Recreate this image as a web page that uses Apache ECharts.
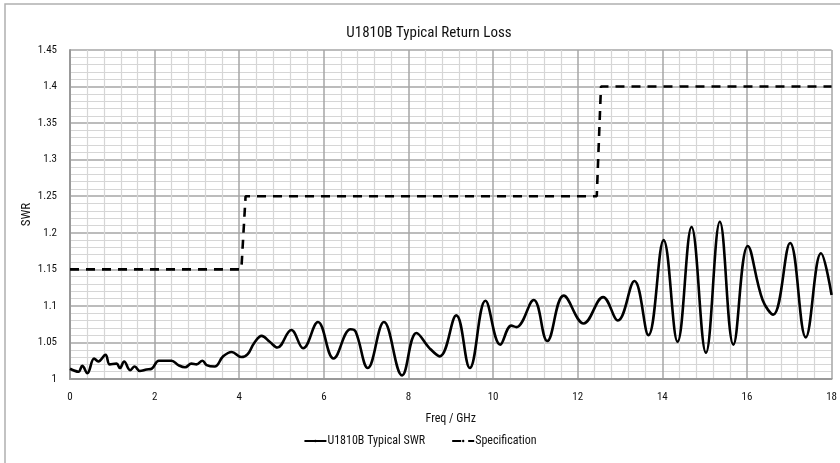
<!DOCTYPE html>
<html>
<head>
<meta charset="utf-8">
<script src="https://cdn.jsdelivr.net/npm/echarts@6/dist/echarts.min.js"></script>
<style>
  html, body { margin: 0; padding: 0; background: #fff; }
  #chart { width: 840px; height: 463px; }
</style>
</head>
<body>
<div id="chart"></div>
<script>
// typical SWR curve (GHz, SWR)
var freq = [0, 0.2, 0.29, 0.41, 0.57, 0.67, 0.84, 0.94, 1.1, 1.18, 1.28, 1.42, 1.53, 1.65, 1.81, 1.93,
  2.1, 2.4, 2.56, 2.72, 2.87, 2.99, 3.13, 3.23, 3.42, 3.62, 3.82, 4.05, 4.2, 4.35, 4.53, 4.72, 4.9,
  5.23, 5.51, 5.86, 6.23, 6.63, 6.75, 7.04, 7.42, 7.85, 8.19, 8.5, 8.74, 9.13, 9.45, 9.82, 10.17,
  10.43, 10.55, 10.96, 11.28, 11.67, 12.14, 12.6, 12.95, 13.34, 13.67, 14.03, 14.36, 14.69, 15.03,
  15.36, 15.68, 16.02, 16.37, 16.62, 17.02, 17.39, 17.75, 18]
var swr = [1.014, 1.010, 1.018, 1.008, 1.028, 1.024, 1.033, 1.020, 1.021, 1.015, 1.024, 1.012, 1.017, 1.011, 1.013, 1.014,
  1.025, 1.025, 1.019, 1.016, 1.021, 1.020, 1.025, 1.019, 1.017, 1.031, 1.037, 1.030, 1.034, 1.049, 1.059, 1.051, 1.043,
  1.067, 1.042, 1.078, 1.028, 1.068, 1.065, 1.015, 1.078, 1.005, 1.063, 1.042, 1.031, 1.087, 1.015, 1.107, 1.047,
  1.073, 1.071, 1.108, 1.052, 1.114, 1.076, 1.112, 1.080, 1.134, 1.060, 1.190, 1.051, 1.208, 1.036,
  1.215, 1.047, 1.182, 1.108, 1.088, 1.186, 1.057, 1.172, 1.115]

// specification limit
var specFreq = [0, 4.05, 4.15, 12.45, 12.55, 18]
var specSwr = [1.15, 1.15, 1.25, 1.25, 1.4, 1.4]

var font = "'Liberation Sans Narrow', 'Roboto Condensed', 'DejaVu Sans Condensed', sans-serif"

function pairs(xs, ys) {
  return xs.map(function (x, i) { return [x, ys[i]] })
}

var chart = echarts.init(document.getElementById('chart'))
chart.setOption({
  animation: false,
  textStyle: { fontFamily: font },
  graphic: [{
    type: 'rect',
    shape: { x: 5, y: 4, width: 850, height: 480 },
    style: { fill: 'none', stroke: '#b0b0b0', lineWidth: 1.5 },
    silent: true
  }],
  title: {
    text: 'U1810B Typical Return Loss',
    left: 424,
    textAlign: 'center',
    top: 21,
    textStyle: { fontFamily: font, fontSize: 15, fontWeight: 'normal', color: '#111' }
  },
  legend: {
    bottom: 11,
    left: 'center',
    itemWidth: 22,
    itemHeight: 3,
    itemGap: 26,
    textStyle: { fontFamily: font, fontSize: 12, color: '#111', padding: [0, 0, 0, -4] },
    data: ['U1810B Typical SWR', 'Specification']
  },
  grid: { left: 70, right: 8, top: 50, bottom: 84 },
  xAxis: {
    type: 'value',
    min: 0,
    max: 18,
    interval: 2,
    name: 'Freq / GHz',
    nameLocation: 'middle',
    nameGap: 34,
    nameMoveOverlap: false,
    nameTextStyle: { fontFamily: font, fontSize: 12, color: '#111' },
    axisLine: { show: true, lineStyle: { color: '#999', width: 2 } },
    axisTick: { show: false },
    axisLabel: { margin: 13, fontSize: 11, color: '#111' },
    splitLine: { show: true, lineStyle: { color: '#a6a6a6', width: 1.5 } },
    minorTick: { show: false, splitNumber: 5 },
    minorSplitLine: { show: true, lineStyle: { color: '#d6d6d6', width: 1.2 } }
  },
  yAxis: {
    type: 'value',
    min: 1,
    max: 1.45,
    interval: 0.05,
    name: 'SWR',
    nameLocation: 'middle',
    nameGap: 37,
    nameMoveOverlap: false,
    nameTextStyle: { fontFamily: font, fontSize: 13, color: '#111' },
    axisLine: { show: true, lineStyle: { color: '#999', width: 2 } },
    axisTick: { show: false },
    axisLabel: { margin: 13, fontSize: 11, color: '#111' },
    splitLine: { show: true, lineStyle: { color: '#a6a6a6', width: 1.5 } },
    minorTick: { show: false, splitNumber: 5 },
    minorSplitLine: { show: true, lineStyle: { color: '#d6d6d6', width: 1.2 } }
  },
  series: [
    {
      name: 'U1810B Typical SWR',
      type: 'line',
      smooth: 0.4,
      showSymbol: false,
      symbol: 'none',
      color: '#000',
      lineStyle: { color: '#000', width: 2.6 },
      data: pairs(freq, swr),
      z: 3
    },
    {
      name: 'Specification',
      type: 'line',
      showSymbol: false,
      symbol: 'none',
      color: '#000',
      lineStyle: { color: '#000', width: 2.6, type: [9, 7] },
      data: pairs(specFreq, specSwr),
      z: 2
    }
  ]
})
</script>
</body>
</html>
